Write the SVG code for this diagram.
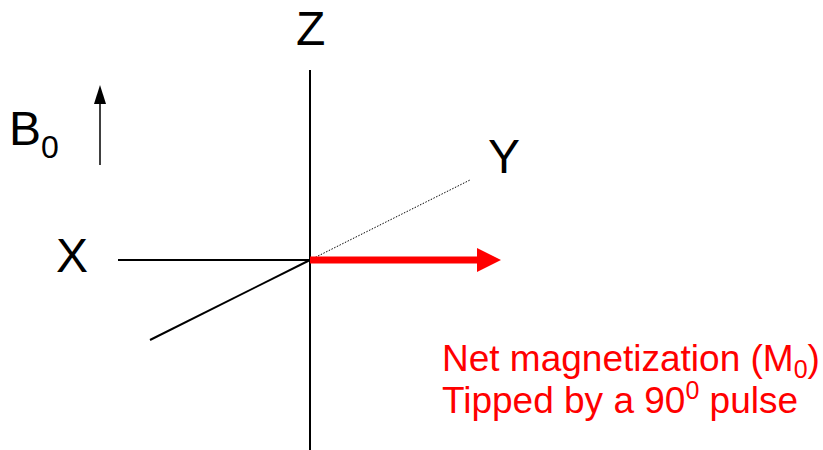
<svg xmlns="http://www.w3.org/2000/svg" width="823" height="450" viewBox="0 0 823 450">
<style>
.lbl{font-family:"Liberation Sans",Arial,sans-serif;font-size:48px;fill:#000}
.red{font-family:"Liberation Sans",Arial,sans-serif;font-size:37px;fill:#ff0000}
.ax{stroke:#000;stroke-width:2;fill:none}
</style>
<rect width="823" height="450" fill="#fff"/>
<g id="axes">
<line class="ax" x1="310" y1="70" x2="310" y2="450"/>
<line class="ax" x1="118" y1="260" x2="310" y2="260"/>
<line class="ax" x1="150" y1="340" x2="310" y2="260"/>
<line x1="310" y1="260" x2="470" y2="180" stroke="#000" stroke-width="1" stroke-dasharray="1.5,1.5"/>
</g>
<g id="b0-arrow">
<line x1="100" y1="165" x2="100" y2="100" stroke="#000" stroke-width="1.5"/>
<path d="M94,104 L100,85 L106,104 z" fill="#000"/>
</g>
<g id="m0-arrow">
<line x1="310" y1="260" x2="480" y2="260" stroke="#ff0000" stroke-width="7"/>
<path d="M477,248 L501,260 L477,272 z" fill="#ff0000"/>
</g>
<g id="labels">
<text class="lbl" x="296" y="45">Z</text>
<text class="lbl" x="56" y="272">X</text>
<text class="lbl" x="488" y="173">Y</text>
<text class="lbl" x="9" y="145" font-size="50">B<tspan font-size="32" dy="13">0</tspan></text>
</g>
<g id="caption">
<text class="red" x="442" y="371">Net magnetization (M<tspan font-size="25" dy="7">0</tspan><tspan dy="-7">)</tspan></text>
<text class="red" x="442" y="413">Tipped by a 90<tspan font-size="25" dy="-14">0</tspan><tspan dy="14"> pulse</tspan></text>
</g>
</svg>
